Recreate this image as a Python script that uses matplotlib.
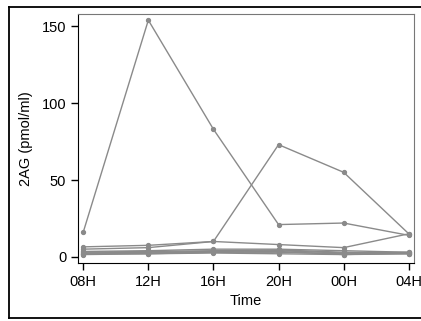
import matplotlib
matplotlib.use("Agg")
import matplotlib.pyplot as plt
from matplotlib.lines import Line2D

times = ["08H", "12H", "16H", "20H", "00H", "04H"]
s1 = [16, 154, 83, 21, 22, 14]
s2 = [5, 6, 10, 73, 55, 15]
s3 = [6.5, 7.5, 10, 8, 6, 15]
s4 = [3.5, 4, 5, 5, 4, 3]
s5 = [3, 3.5, 4, 4.5, 3, 2.5]
s6 = [2.5, 3, 3.5, 4, 2.5, 3]
s7 = [2, 2.5, 3, 3, 2, 2]
s8 = [1.5, 2, 3, 3.5, 1.5, 2.5]
s9 = [2, 2, 2.5, 2, 1.5, 2]
series = [s1, s2, s3, s4, s5, s6, s7, s8, s9]

plt.rcParams['font.family'] = ['Liberation Sans', 'DejaVu Sans']
fig = plt.figure(figsize=(4.21, 3.21), dpi=100)
ax = fig.add_axes([78/421, 1-263/321, (414-78)/421, (263-14)/321])

x = list(range(len(times)))
for s in series:
    ax.plot(x, s, color='#8a8a8a', lw=1.0, marker='o', ms=2.8, mec='#8a8a8a', mfc='#8a8a8a')

ax.set_xlim(-0.08, 5.08)
ax.set_ylim(-4, 158)
ax.set_xticks(x)
ax.set_xticklabels(times)
ax.set_yticks([0, 50, 100, 150])
ax.tick_params(direction='out', length=5, width=1, labelsize=10.5, colors='black')
ax.set_xlabel('Time', fontsize=10.5, labelpad=4)
ax.set_ylabel('2AG (pmol/ml)', fontsize=10.5, labelpad=6)
for side in ['left', 'bottom']:
    ax.spines[side].set_color('black')
for side in ['top', 'right']:
    ax.spines[side].set_color('#777777')

x0, x1 = 8.5/421, 1.0
yb, yt = 1-317.5/321, 1-6.5/321
fig.add_artist(Line2D([x0, x1], [yt, yt], transform=fig.transFigure, color='black', lw=1.3, zorder=10))
fig.add_artist(Line2D([x0, x1], [yb, yb], transform=fig.transFigure, color='black', lw=1.3, zorder=10))
fig.add_artist(Line2D([x0, x0], [yb, yt], transform=fig.transFigure, color='black', lw=1.3, zorder=10))
fig.savefig('out.png', dpi=100)
